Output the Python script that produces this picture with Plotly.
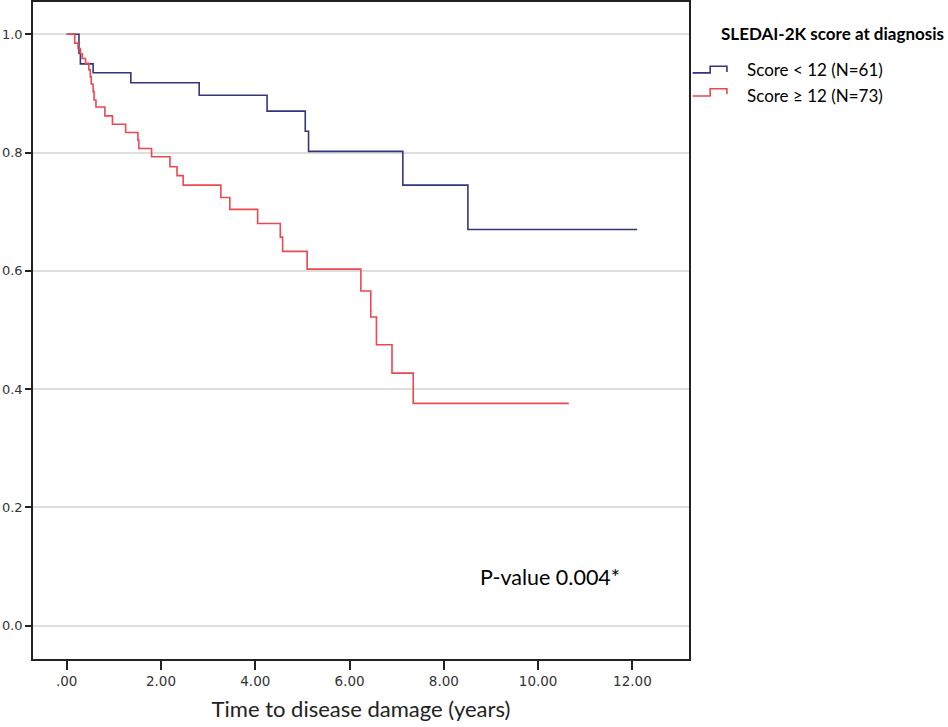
import plotly.graph_objects as go

# Kaplan-Meier curves (time in years, cumulative survival)
low_time = [0, 0.26, 0.29, 0.56, 1.36, 2.81, 4.25, 5.06, 5.13, 7.13, 8.51, 12.10]
low_surv = [1.0, 0.968, 0.950, 0.935, 0.918, 0.897, 0.870, 0.836, 0.802, 0.745, 0.670, 0.670]

high_time = [0, 0.17, 0.24, 0.29, 0.33, 0.40, 0.47, 0.50, 0.52, 0.56, 0.58, 0.62,
             0.81, 0.97, 1.25, 1.51, 1.53, 1.80, 2.19, 2.34, 2.47, 3.27, 3.46,
             4.05, 4.53, 4.58, 5.10, 6.24, 6.45, 6.57, 6.90, 7.35, 10.65]
high_surv = [1.0, 0.985, 0.976, 0.967, 0.959, 0.951, 0.940, 0.928, 0.916, 0.903, 0.889, 0.877,
             0.862, 0.848, 0.834, 0.821, 0.807, 0.793, 0.776, 0.761, 0.745, 0.724, 0.704,
             0.680, 0.657, 0.633, 0.603, 0.566, 0.522, 0.475, 0.427, 0.376, 0.376]

x_ticks = [0, 2, 4, 6, 8, 10, 12]
x_tick_labels = ['.00', '2.00', '4.00', '6.00', '8.00', '10.00', '12.00']
y_ticks = [0, 0.2, 0.4, 0.6, 0.8, 1.0]
y_tick_labels = ['0.0', '0.2', '0.4', '0.6', '0.8', '1.0']

group_names = ['Score < 12 (N=61)', 'Score \u2265 12 (N=73)']
legend_title = 'SLEDAI-2K score at diagnosis'
p_text = 'P-value 0.004*'

BLUE = '#35357f'
RED = '#ec4850'

fig = go.Figure()
fig.add_trace(go.Scatter(x=low_time, y=low_surv, mode='lines', line_shape='hv',
                         name=group_names[0], line=dict(color=BLUE, width=1.6)))
fig.add_trace(go.Scatter(x=high_time, y=high_surv, mode='lines', line_shape='hv',
                         name=group_names[1], line=dict(color=RED, width=1.6)))

# hand made legend with the little step icons SPSS draws
def step_icon(y_low, y_high, y_tail, color):
    x0, x1, x2 = 1.0056, 1.0323, 1.0578
    path = 'M {a},{l} L {b},{l} L {b},{h} L {c},{h} L {c},{t}'.format(
        a=x0, b=x1, c=x2, l=y_low, h=y_high, t=y_tail)
    return dict(type='path', xref='paper', yref='paper', path=path,
                line=dict(color=color, width=1.6))

fig.add_shape(step_icon(0.8921, 0.9023, 0.8935, BLUE))
fig.add_shape(step_icon(0.8569, 0.8680, 0.8598, RED))

fig.add_annotation(x=1.046, y=0.952, xref='paper', yref='paper', xanchor='left', yanchor='middle',
                   text='<b>' + legend_title + '</b>', showarrow=False,
                   font=dict(family='Lato', size=17, color='black'))
fig.add_annotation(x=1.0854, y=0.897, xref='paper', yref='paper', xanchor='left', yanchor='middle',
                   text=group_names[0], showarrow=False,
                   font=dict(family='Lato', size=17, color='black'))
fig.add_annotation(x=1.0854, y=0.8575, xref='paper', yref='paper', xanchor='left', yanchor='middle',
                   text=group_names[1], showarrow=False,
                   font=dict(family='Lato', size=17, color='black'))

fig.add_annotation(x=10.26, y=0.083, xref='x', yref='y', xanchor='center', yanchor='middle',
                   text=p_text, showarrow=False,
                   font=dict(family='Lato', size=21.5, color='black'))

fig.update_layout(
    width=948, height=727,
    margin=dict(l=33, r=259, t=2, b=68),
    paper_bgcolor='white', plot_bgcolor='white',
    showlegend=False,
    xaxis=dict(range=[-0.715, 13.2], tickvals=x_ticks, ticktext=x_tick_labels,
               automargin=False,
               showgrid=False, zeroline=False, showline=True, mirror=True,
               linecolor='#222', linewidth=1.5, ticks='outside', ticklen=9,
               tickwidth=2, tickcolor='#222',
               tickfont=dict(family='DejaVu Sans', size=13.5, color='#333'),
               title=dict(text='Time to disease damage (years)', standoff=14,
                          font=dict(family='Lato', size=22, color='#222'))),
    yaxis=dict(range=[-0.0563, 1.0546], tickvals=y_ticks, ticktext=y_tick_labels,
               automargin=False,
               showgrid=True, gridcolor='#dedede', gridwidth=1.5, zeroline=False,
               showline=True, mirror=True, linecolor='#222', linewidth=1.5,
               ticks='outside', ticklen=6, tickwidth=2, tickcolor='#222',
               tickfont=dict(family='DejaVu Sans', size=13, color='#333')),
)

# drop the browser's default 8px body margin so the chart sits at the page corner
fig.write_html('out.html', config={'displayModeBar': False},
               post_script="document.body.style.margin='0';")
